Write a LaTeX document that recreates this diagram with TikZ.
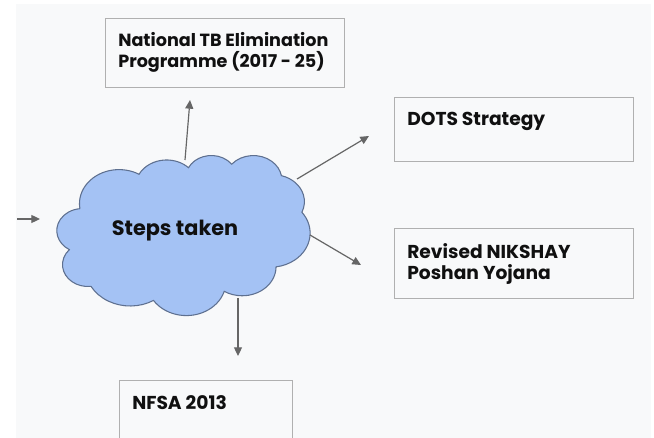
\documentclass[tikz,border=0pt]{standalone}
\usepackage{fontspec}
\setmainfont{Poppins}
\usetikzlibrary{arrows.meta}

\definecolor{panelbg}{HTML}{F8F9FA}
\definecolor{boxline}{HTML}{B0B0B0}
\definecolor{arrowgrey}{HTML}{666666}
\definecolor{cloudfill}{HTML}{A4C2F4}
\definecolor{cloudline}{HTML}{5E7090}
\definecolor{inktext}{HTML}{101010}

% One elliptical arc of a preset-style cloud outline:
% #1 x radius, #2 y radius, #3 start angle, #4 sweep (visual angles, degrees)
\newcommand\cloudarc[4]{%
  \pgfextra{%
    \pgfmathsetmacro\arcS{atan2((#1)*sin(#3),(#2)*cos(#3))}%
    \pgfmathsetmacro\arcE{atan2((#1)*sin((#3)+(#4)),(#2)*cos((#3)+(#4)))}%
    \pgfmathsetmacro\arcD{mod(\arcE-\arcS+720,360)}%
  }%
  arc[start angle=\arcS, delta angle=\arcD, x radius=#1, y radius=#2]%
}

\tikzset{
  infobox/.style={draw=boxline, line width=1.1pt, fill=panelbg, rectangle,
    anchor=north west, inner sep=0pt},
  boxtext/.style={anchor=west, align=left, inner sep=0pt, text=inktext,
    font=\fontsize{14}{15.75}\selectfont\bfseries},
  arr/.style={draw=arrowgrey, line width=0.9pt,
    -{Triangle[length=6.5pt,width=6pt]}, fill=none},
}

\begin{document}
\begin{tikzpicture}[x=0.75pt, y=-0.75pt]
  \useasboundingbox (0,0) rectangle (654,438);
  \fill[white] (0,0) rectangle (654,438);
  \fill[panelbg] (16,4) rectangle (651,438);

  % cloud outline, drawn in a 43.2 x 43.2 local frame
  \begin{scope}[shift={(57,155)}, xscale=253/43.2, yscale=160/43.2]
    \draw[fill=cloudfill, draw=cloudline, line width=0.8pt]
      (3.900,14.370)
      \cloudarc{6.753}{9.190}{-190.48748}{123.78053}
      \cloudarc{5.333}{7.267}{-144.10238}{89.94523}
      \cloudarc{4.365}{5.945}{-145.80792}{99.72302}
      \cloudarc{4.857}{6.595}{-130.98607}{117.24173}
      \cloudarc{5.333}{7.273}{-78.70888}{109.02692}
      \cloudarc{6.775}{9.220}{-46.26725}{130.269}
      \cloudarc{5.785}{7.867}{0.62502}{114.03333}
      \cloudarc{6.752}{9.215}{22.4516}{115.17255}
      \cloudarc{7.720}{10.543}{66.24263}{75.71102}
      \cloudarc{4.360}{5.918}{-274.94208}{146.73557}
      \cloudarc{4.345}{5.945}{-246.8285}{152.51885}
      -- cycle;
  \end{scope}
  \node[inner sep=0pt, text=inktext,
        font=\fontsize{15.6}{18}\selectfont\bfseries] (steps) at (175,231) {Steps taken};

  % boxes
  \node[infobox, minimum width=179.25pt, minimum height=51.75pt] (ntep) at (105,18) {};
  \node[infobox, minimum width=179.25pt, minimum height=48pt] (dots) at (394,97) {};
  \node[infobox, minimum width=179.25pt, minimum height=52.5pt] (nikshay) at (394,228) {};
  \node[infobox, minimum width=129.75pt, minimum height=50pt] (nfsa) at (119,380) {};

  \node[boxtext, font=\fontsize{13.2}{15.75}\selectfont\bfseries]
    (ntep-text) at (118,52) {National TB Elimination\\Programme (2017 - 25)};
  \node[boxtext] (dots-text) at (407,121) {DOTS Strategy};
  \node[boxtext] (nikshay-text) at (407,264) {Revised NIKSHAY\\Poshan Yojana};
  \node[boxtext] (nfsa-text) at (132,403) {NFSA 2013};

  % connector end points
  \coordinate (in-start) at (17,219);
  \coordinate (in-end) at (40,219);
  \coordinate (up-start) at (185,160);
  \coordinate (up-end) at (190,100);
  \coordinate (dots-start) at (297,179);
  \coordinate (dots-end) at (369,136);
  \coordinate (nik-start) at (310,235);
  \coordinate (nik-end) at (361,265);
  \coordinate (nfsa-start) at (238,298);
  \coordinate (nfsa-end) at (238,356);

  \draw[arr] (in-start) -- (in-end);
  \draw[arr] (up-start) -- (up-end);
  \draw[arr] (dots-start) -- (dots-end);
  \draw[arr] (nik-start) -- (nik-end);
  \draw[arr] (nfsa-start) -- (nfsa-end);
\end{tikzpicture}
\end{document}
